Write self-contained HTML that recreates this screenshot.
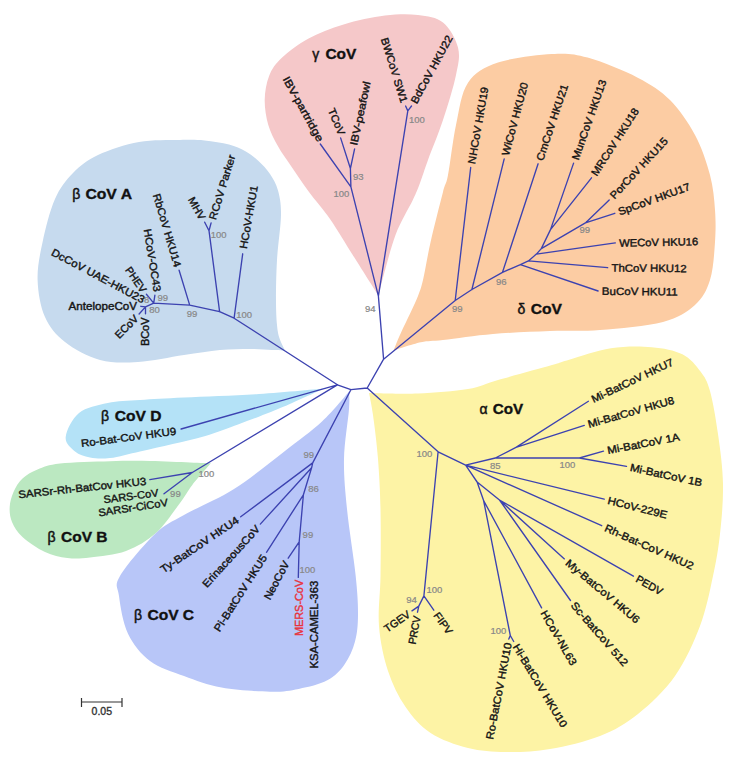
<!DOCTYPE html><html><head><meta charset="utf-8"><style>html,body{margin:0;padding:0;background:#fff;}svg{display:block;font-family:"Liberation Sans",sans-serif;}</style></head><body>
<svg width="734" height="768" viewBox="0 0 734 768">
<rect width="734" height="768" fill="#fff"/>
<path fill="#c6daee" d="M98.0,155.0 C109.0,149.8 125.3,144.5 139.0,142.0 C152.7,139.5 169.1,140.2 180.0,140.0 C190.9,139.8 196.3,139.7 204.5,140.5 C212.7,141.3 222.2,142.8 229.0,144.6 C235.8,146.4 240.5,148.5 245.4,151.2 C250.3,153.9 254.4,157.2 258.5,161.0 C262.6,164.8 266.8,169.1 270.0,174.0 C273.2,178.9 276.2,183.6 278.0,190.4 C279.8,197.2 281.2,203.4 281.0,215.0 C280.8,226.6 277.8,245.8 277.0,260.0 C276.2,274.2 276.0,289.2 276.0,300.0 C276.0,310.8 276.4,318.6 277.0,325.0 C277.6,331.4 278.1,333.9 279.4,338.1 C280.7,342.4 285.0,350.5 285.0,350.5 C285.0,350.5 277.8,350.2 272.0,350.0 C266.2,349.8 258.7,349.0 250.0,349.0 C241.3,349.0 231.0,349.0 220.0,350.0 C209.0,351.0 197.7,353.0 184.0,355.0 C170.3,357.0 152.0,361.2 138.0,362.0 C124.0,362.8 112.2,363.3 100.0,360.0 C87.8,356.7 74.2,349.2 65.0,342.0 C55.8,334.8 49.6,327.3 45.0,317.0 C40.4,306.7 38.0,292.5 37.6,280.0 C37.2,267.5 39.7,255.5 42.6,242.0 C45.5,228.5 49.9,210.5 55.0,199.0 C60.1,187.5 65.8,180.3 73.0,173.0 C80.2,165.7 87.0,160.2 98.0,155.0Z"/>
<path fill="#f5c8c9" d="M308.1,38.7 C318.4,33.1 330.8,28.4 343.6,24.5 C356.4,20.6 372.6,17.2 385.0,15.6 C397.4,14.0 408.3,13.8 418.0,15.0 C427.7,16.1 436.3,17.1 443.0,22.5 C449.7,27.9 455.8,38.9 458.0,47.6 C460.2,56.4 458.5,62.9 456.0,75.0 C453.5,87.1 447.7,105.8 443.0,120.0 C438.3,134.2 431.8,149.5 428.0,160.0 C424.2,170.5 422.5,176.3 420.0,183.0 C417.5,189.7 416.9,191.4 412.8,200.0 C408.7,208.6 400.8,220.9 395.6,234.7 C390.4,248.5 384.5,272.9 381.6,283.0 C378.7,293.1 378.4,295.6 378.4,295.6 C378.4,295.6 362.3,270.1 354.2,257.3 C346.1,244.5 337.5,229.9 330.0,219.0 C322.5,208.1 315.5,200.8 309.0,192.0 C302.5,183.2 296.2,173.6 291.0,166.0 C285.8,158.4 281.8,153.1 278.0,146.3 C274.2,139.5 270.5,132.7 268.3,125.0 C266.1,117.3 264.6,108.2 264.7,100.0 C264.8,91.8 266.4,82.8 269.2,75.8 C272.0,68.8 275.1,64.3 281.6,58.1 C288.1,51.9 297.8,44.3 308.1,38.7Z"/>
<path fill="#fccca3" d="M498.0,62.6 C512.0,57.8 537.1,54.8 552.0,54.0 C566.9,53.2 573.3,53.6 587.6,57.6 C601.9,61.6 624.0,70.6 637.7,77.7 C651.4,84.8 660.5,90.5 670.0,100.0 C679.5,109.5 688.3,122.5 695.0,135.0 C701.7,147.5 706.7,162.5 710.0,175.0 C713.3,187.5 714.2,198.8 715.0,210.0 C715.8,221.2 715.8,230.3 715.0,242.0 C714.2,253.7 713.3,269.5 710.0,280.0 C706.7,290.5 702.8,298.0 695.0,305.0 C687.2,312.0 678.8,317.8 663.0,322.0 C647.2,326.2 618.8,328.5 600.0,330.0 C581.2,331.5 567.8,330.3 550.0,331.0 C532.2,331.7 510.8,332.5 493.0,334.0 C475.2,335.5 455.0,338.6 443.0,340.0 C431.0,341.4 429.1,340.5 420.9,342.2 C412.7,343.9 393.6,350.4 393.6,350.4 C393.6,350.4 397.4,340.6 400.4,334.0 C403.3,327.4 408.4,317.2 411.3,310.9 C414.2,304.6 416.1,301.1 418.0,296.0 C419.9,290.9 420.9,289.0 423.0,280.0 C425.1,271.0 427.3,256.7 430.6,242.0 C433.9,227.3 440.1,203.2 443.0,192.0 C445.9,180.8 445.8,186.2 448.0,175.0 C450.2,163.8 452.7,140.4 456.0,125.0 C459.3,109.6 461.0,93.1 468.0,82.7 C475.0,72.3 484.0,67.4 498.0,62.6Z"/>
<path fill="#fdf3a5" d="M369.0,393.0 C369.0,393.0 401.5,394.2 418.0,393.5 C434.5,392.8 454.7,391.2 468.0,389.0 C481.3,386.8 484.0,384.0 498.0,380.0 C512.0,376.0 540.0,368.4 552.0,365.0 C564.0,361.6 560.2,362.2 570.0,359.4 C579.8,356.6 597.3,350.2 610.9,348.2 C624.5,346.2 639.8,346.2 651.7,347.2 C663.6,348.2 674.3,350.2 682.4,354.3 C690.5,358.4 695.9,365.4 700.5,371.5 C705.1,377.6 707.1,380.6 710.0,391.0 C712.9,401.4 715.8,418.5 718.0,434.0 C720.2,449.5 722.7,467.3 723.0,484.0 C723.3,500.7 721.7,518.7 720.0,534.0 C718.3,549.3 716.3,560.7 713.0,576.0 C709.7,591.3 706.3,609.3 700.0,626.0 C693.7,642.7 685.3,661.3 675.0,676.0 C664.7,690.7 650.5,704.0 638.0,714.0 C625.5,724.0 614.7,730.2 600.0,736.0 C585.3,741.8 565.7,746.3 550.0,749.0 C534.3,751.7 519.7,752.2 506.0,752.0 C492.3,751.8 480.6,751.2 468.0,748.0 C455.4,744.8 441.0,739.8 430.6,733.0 C420.2,726.2 412.7,717.3 405.6,707.0 C398.5,696.7 392.4,684.5 388.0,671.0 C383.6,657.5 380.2,641.8 379.0,626.0 C377.8,610.2 380.2,595.5 380.5,576.0 C380.8,556.5 380.9,528.5 380.5,509.0 C380.1,489.5 379.2,474.7 378.0,459.0 C376.8,443.3 374.5,426.0 373.0,415.0 C371.5,404.0 369.0,393.0 369.0,393.0Z"/>
<path fill="#b4e2f7" d="M65.7,437.0 C66.4,430.6 72.0,418.7 79.0,413.0 C86.0,407.3 97.5,405.2 107.7,403.0 C117.9,400.8 127.3,400.9 140.0,400.0 C152.7,399.1 164.2,398.5 184.0,397.5 C203.8,396.5 235.7,395.5 259.0,394.0 C282.3,392.5 324.0,388.5 324.0,388.5 C324.0,388.5 294.7,402.0 284.0,406.6 C273.3,411.2 267.7,413.3 260.0,416.3 C252.3,419.3 247.1,421.1 238.0,424.4 C228.9,427.7 216.3,432.6 205.4,435.9 C194.5,439.2 183.6,441.4 172.7,444.0 C161.8,446.6 150.4,449.1 140.0,451.4 C129.6,453.7 118.3,457.0 110.0,458.0 C101.7,459.0 95.8,458.6 90.0,457.5 C84.2,456.4 79.0,454.9 75.0,451.5 C71.0,448.1 65.0,443.4 65.7,437.0Z"/>
<path fill="#bbe8c1" d="M37.5,469.5 C43.8,467.0 47.9,464.9 60.0,463.5 C72.1,462.1 95.0,461.6 110.0,461.2 C125.0,460.8 136.7,460.8 150.0,461.0 C163.3,461.2 179.9,462.1 190.0,462.5 C200.1,462.9 210.8,463.3 210.8,463.3 C210.8,463.3 197.4,478.4 192.3,485.0 C187.2,491.6 186.1,495.0 180.0,503.0 C173.9,511.0 165.0,525.0 156.0,533.0 C147.0,541.0 137.0,546.9 126.0,551.0 C115.0,555.1 99.8,556.3 90.0,557.5 C80.2,558.7 74.9,558.9 67.4,558.0 C59.9,557.1 52.5,555.5 45.0,552.0 C37.5,548.5 28.0,542.0 22.5,537.0 C17.0,532.0 14.1,527.0 12.0,522.0 C9.9,517.0 9.4,512.0 9.7,507.0 C9.9,502.0 11.4,496.8 13.5,492.0 C15.6,487.2 18.5,482.2 22.5,478.5 C26.5,474.8 31.2,472.0 37.5,469.5Z"/>
<path fill="#b8c6f8" d="M349.0,391.5 C349.0,391.5 349.8,397.8 349.0,409.0 C348.2,420.2 344.3,442.3 344.0,459.0 C343.7,475.7 345.1,489.5 347.0,509.0 C348.9,528.5 353.9,558.3 355.7,576.0 C357.5,593.7 358.1,604.1 358.0,615.0 C357.9,625.9 357.2,633.4 355.0,641.6 C352.8,649.9 349.1,658.0 344.5,664.5 C339.9,671.0 334.9,676.2 327.3,680.3 C319.7,684.4 308.2,687.0 298.7,688.9 C289.1,690.8 282.9,691.9 270.0,691.7 C257.1,691.5 235.9,690.2 221.6,687.6 C207.3,685.0 195.9,680.4 184.0,676.0 C172.1,671.6 159.3,668.0 150.0,661.0 C140.7,654.0 133.2,644.5 128.0,633.7 C122.8,622.9 120.3,605.6 119.0,596.0 C117.7,586.4 114.0,586.3 120.0,576.0 C126.0,565.7 144.3,544.2 155.0,534.0 C165.7,523.8 170.8,522.5 184.0,515.0 C197.2,507.5 217.3,499.6 234.0,489.0 C250.7,478.4 269.3,462.9 284.0,451.7 C298.7,440.5 311.2,431.6 322.0,421.6 C332.8,411.6 349.0,391.5 349.0,391.5Z"/>
<path fill="none" stroke="#3c42b0" stroke-width="1.35" stroke-linecap="round" stroke-linejoin="round" d="M337.4,384.8L350.9,389.7M350.9,389.7L367.2,388.0M367.2,388.0L383.6,359.2M337.4,384.8L234.1,318.2M234.1,318.2L242.7,253.8M234.1,318.2L219.6,311.7M219.6,311.7L209.0,230.7M209.0,230.7L204.7,222.2M209.0,230.7L211.1,222.9M219.6,311.7L189.7,305.1M189.7,305.1L179.1,270.2M189.7,305.1L153.7,303.1M153.7,303.1L154.9,295.2M153.7,303.1L146.4,294.3M153.7,303.1L145.5,306.9M145.5,306.9L139.1,314.0M145.5,306.9L140.8,306.3M145.5,306.9L145.5,313.7M337.4,384.8L181.1,429.0M337.4,384.8L192.3,472.5M192.3,472.5L149.8,479.6M192.3,472.5L164.0,493.8M350.9,389.7L312.7,462.9M312.7,462.9L240.7,516.8M312.7,462.9L311.6,467.8M311.6,467.8L260.3,524.1M311.6,467.8L303.4,494.8M303.4,494.8L266.5,552.3M303.4,494.8L299.2,541.8M299.2,541.8L288.2,558.2M299.2,541.8L298.3,577.4M367.2,388.0L438.1,451.8M438.1,451.8L423.9,595.9M423.9,595.9L433.8,610.2M423.9,595.9L418.8,606.1M418.8,606.1L412.0,610.9M418.8,606.1L417.5,612.2M438.1,451.8L465.6,465.2M465.6,465.2L495.3,458.0M495.3,458.0L516.0,447.4M516.0,447.4L588.4,401.3M516.0,447.4L584.3,425.4M495.3,458.0L579.4,458.0M579.4,458.0L603.5,451.1M579.4,458.0L626.5,466.3M465.6,465.2L604.2,499.2M465.6,465.2L601.7,525.7M465.6,465.2L477.1,482.0M477.1,482.0L483.6,500.5M477.1,482.0L499.5,500.0M499.5,500.0L564.4,558.9M499.5,500.0L570.5,600.5M499.5,500.0L633.4,576.2M483.6,500.5L541.6,607.9M483.6,500.5L510.3,635.5M510.3,635.5L508.8,639.1M510.3,635.5L513.7,641.5M383.6,359.2L378.4,296.1M378.4,296.1L350.9,186.9M350.9,186.9L320.3,144.0M350.9,186.9L350.4,168.5M350.4,168.5L340.6,137.9M350.4,168.5L354.6,148.9M378.4,296.1L407.8,110.9M407.8,110.9L405.6,106.0M407.8,110.9L411.5,106.0M383.6,359.2L455.2,300.5M455.2,300.5L470.7,167.5M455.2,300.5L471.9,289.5M471.9,289.5L504.2,158.9M471.9,289.5L502.5,272.3M502.5,272.3L538.1,163.8M502.5,272.3L520.4,264.6M520.4,264.6L598.1,291.0M520.4,264.6L528.4,260.9M528.4,260.9L607.7,267.7M528.4,260.9L536.4,254.1M536.4,254.1L615.3,242.9M536.4,254.1L541.3,248.6M541.3,248.6L550.5,229.6M550.5,229.6L573.6,163.1M550.5,229.6L591.5,177.8M541.3,248.6L585.4,222.9M585.4,222.9L609.2,199.9M585.4,222.9L614.8,213.3"/>
<g fill="#151515" stroke="#151515" stroke-width="0.4" font-size="10.6">
<text x="0" y="0" text-anchor="start" textLength="63.8" lengthAdjust="spacingAndGlyphs" transform="translate(246.80,249.22) rotate(-80.0)">HCoV-HKU1</text>
<text x="0" y="0" text-anchor="start" textLength="67.1" lengthAdjust="spacingAndGlyphs" transform="translate(215.84,220.38) rotate(-73.0)">RCoV Parker</text>
<text x="0" y="0" text-anchor="end" textLength="24.4" lengthAdjust="spacingAndGlyphs" transform="translate(199.53,220.72) rotate(61.0)">MHV</text>
<text x="0" y="0" text-anchor="end" textLength="75.9" lengthAdjust="spacingAndGlyphs" transform="translate(174.38,267.64) rotate(73.5)">RbCoV HKU14</text>
<text x="0" y="0" text-anchor="end" textLength="63.3" lengthAdjust="spacingAndGlyphs" transform="translate(153.65,292.04) rotate(81.0)">HCoV-OC43</text>
<text x="0" y="0" text-anchor="end" textLength="28.6" lengthAdjust="spacingAndGlyphs" transform="translate(141.11,293.37) rotate(55.0)">PHEV</text>
<text x="0" y="0" text-anchor="end" textLength="104.0" lengthAdjust="spacingAndGlyphs" transform="translate(142.36,303.57) rotate(28.0)">DcCoV UAE-HKU23</text>
<text x="0" y="0" text-anchor="end" textLength="68.4" lengthAdjust="spacingAndGlyphs" transform="translate(137.00,310.10) rotate(0.0)">AntelopeCoV</text>
<text x="0" y="0" text-anchor="end" textLength="28.0" lengthAdjust="spacingAndGlyphs" transform="translate(139.10,319.37) rotate(-45.0)">ECoV</text>
<text x="0" y="0" text-anchor="end" textLength="28.6" lengthAdjust="spacingAndGlyphs" transform="translate(149.30,317.50) rotate(-90.0)">BCoV</text>
<text x="0" y="0" text-anchor="end" textLength="72.7" lengthAdjust="spacingAndGlyphs" transform="translate(317.63,142.52) rotate(61.0)">IBV-partridge</text>
<text x="0" y="0" text-anchor="end" textLength="27.9" lengthAdjust="spacingAndGlyphs" transform="translate(338.62,135.89) rotate(67.0)">TCoV</text>
<text x="0" y="0" text-anchor="start" textLength="65.0" lengthAdjust="spacingAndGlyphs" transform="translate(357.11,145.97) rotate(-78.0)">IBV-peafowl</text>
<text x="0" y="0" text-anchor="end" textLength="67.6" lengthAdjust="spacingAndGlyphs" transform="translate(400.84,103.50) rotate(72.7)">BWCoV SW1</text>
<text x="0" y="0" text-anchor="start" textLength="75.8" lengthAdjust="spacingAndGlyphs" transform="translate(416.66,104.49) rotate(-61.3)">BdCoV HKU22</text>
<text x="0" y="0" text-anchor="start" textLength="77.8" lengthAdjust="spacingAndGlyphs" transform="translate(475.09,164.40) rotate(-80.2)">NHCoV HKU19</text>
<text x="0" y="0" text-anchor="start" textLength="75.2" lengthAdjust="spacingAndGlyphs" transform="translate(508.85,156.20) rotate(-75.1)">WiCoV HKU20</text>
<text x="0" y="0" text-anchor="start" textLength="79.7" lengthAdjust="spacingAndGlyphs" transform="translate(542.91,161.40) rotate(-71.5)">CmCoV HKU21</text>
<text x="0" y="0" text-anchor="start" textLength="84.3" lengthAdjust="spacingAndGlyphs" transform="translate(578.45,160.79) rotate(-70.5)">MunCoV HKU13</text>
<text x="0" y="0" text-anchor="start" textLength="78.2" lengthAdjust="spacingAndGlyphs" transform="translate(596.76,176.68) rotate(-57.0)">MRCoV HKU18</text>
<text x="0" y="0" text-anchor="start" textLength="79.3" lengthAdjust="spacingAndGlyphs" transform="translate(614.57,199.71) rotate(-47.0)">PorCoV HKU15</text>
<text x="0" y="0" text-anchor="start" textLength="75.8" lengthAdjust="spacingAndGlyphs" transform="translate(619.67,215.57) rotate(-20.0)">SpCoV HKU17</text>
<text x="0" y="0" text-anchor="start" textLength="79.1" lengthAdjust="spacingAndGlyphs" transform="translate(619.17,246.63) rotate(-1.0)">WECoV HKU16</text>
<text x="0" y="0" text-anchor="start" textLength="75.2" lengthAdjust="spacingAndGlyphs" transform="translate(611.47,271.53) rotate(0.5)">ThCoV HKU12</text>
<text x="0" y="0" text-anchor="start" textLength="75.9" lengthAdjust="spacingAndGlyphs" transform="translate(601.87,294.83) rotate(0.5)">BuCoV HKU11</text>
<text x="0" y="0" text-anchor="start" textLength="89.4" lengthAdjust="spacingAndGlyphs" transform="translate(593.46,403.10) rotate(-25.4)">Mi-BatCoV HKU7</text>
<text x="0" y="0" text-anchor="start" textLength="89.4" lengthAdjust="spacingAndGlyphs" transform="translate(589.00,428.01) rotate(-16.0)">Mi-BatCoV HKU8</text>
<text x="0" y="0" text-anchor="start" textLength="73.6" lengthAdjust="spacingAndGlyphs" transform="translate(607.94,454.12) rotate(-10.8)">Mi-BatCoV 1A</text>
<text x="0" y="0" text-anchor="start" textLength="73.7" lengthAdjust="spacingAndGlyphs" transform="translate(629.40,470.82) rotate(12.3)">Mi-BatCoV 1B</text>
<text x="0" y="0" text-anchor="start" textLength="61.0" lengthAdjust="spacingAndGlyphs" transform="translate(606.97,503.81) rotate(14.0)">HCoV-229E</text>
<text x="0" y="0" text-anchor="start" textLength="96.2" lengthAdjust="spacingAndGlyphs" transform="translate(603.63,530.72) rotate(24.0)">Rh-Bat-CoV HKU2</text>
<text x="0" y="0" text-anchor="start" textLength="28.8" lengthAdjust="spacingAndGlyphs" transform="translate(634.88,581.37) rotate(29.0)">PEDV</text>
<text x="0" y="0" text-anchor="start" textLength="92.8" lengthAdjust="spacingAndGlyphs" transform="translate(564.87,564.25) rotate(40.0)">My-BatCoV HKU6</text>
<text x="0" y="0" text-anchor="start" textLength="80.9" lengthAdjust="spacingAndGlyphs" transform="translate(570.13,605.86) rotate(49.0)">Sc-BatCoV 512</text>
<text x="0" y="0" text-anchor="start" textLength="61.4" lengthAdjust="spacingAndGlyphs" transform="translate(540.21,613.09) rotate(60.0)">HCoV-NL63</text>
<text x="0" y="0" text-anchor="start" textLength="95.3" lengthAdjust="spacingAndGlyphs" transform="translate(512.40,646.71) rotate(59.0)">Hi-BatCoV HKU10</text>
<text x="0" y="0" text-anchor="end" textLength="98.2" lengthAdjust="spacingAndGlyphs" transform="translate(511.81,643.56) rotate(-79.0)">Ro-BatCoV HKU10</text>
<text x="0" y="0" text-anchor="start" textLength="24.4" lengthAdjust="spacingAndGlyphs" transform="translate(432.96,615.51) rotate(54.0)">FIPV</text>
<text x="0" y="0" text-anchor="end" textLength="28.7" lengthAdjust="spacingAndGlyphs" transform="translate(420.58,616.60) rotate(-80.0)">PRCV</text>
<text x="0" y="0" text-anchor="end" textLength="29.0" lengthAdjust="spacingAndGlyphs" transform="translate(411.07,616.19) rotate(-35.0)">TGEV</text>
<text x="0" y="0" text-anchor="end" textLength="92.0" lengthAdjust="spacingAndGlyphs" transform="translate(239.67,522.08) rotate(-34.0)">Ty-BatCoV HKU4</text>
<text x="0" y="0" text-anchor="end" textLength="79.4" lengthAdjust="spacingAndGlyphs" transform="translate(260.55,529.47) rotate(-47.7)">ErinaceousCoV</text>
<text x="0" y="0" text-anchor="end" textLength="89.0" lengthAdjust="spacingAndGlyphs" transform="translate(267.64,557.55) rotate(-57.3)">Pi-BatCoV HKU5</text>
<text x="0" y="0" text-anchor="end" textLength="42.1" lengthAdjust="spacingAndGlyphs" transform="translate(289.77,563.34) rotate(-62.0)">NeoCoV</text>
<text x="0" y="0" text-anchor="end" textLength="56.3" lengthAdjust="spacingAndGlyphs" transform="translate(303.00,579.80) rotate(-90.0)" fill="#e8333c" stroke="#e8333c">MERS-CoV</text>
<text x="0" y="0" text-anchor="end" textLength="87.8" lengthAdjust="spacingAndGlyphs" transform="translate(318.10,580.80) rotate(-90.0)">KSA-CAMEL-363</text>
<text x="0" y="0" text-anchor="end" textLength="95.9" lengthAdjust="spacingAndGlyphs" transform="translate(176.50,434.70) rotate(-7.4)">Ro-Bat-CoV HKU9</text>
<text x="0" y="0" text-anchor="end" textLength="128.5" lengthAdjust="spacingAndGlyphs" transform="translate(146.50,484.80) rotate(-6.0)">SARSr-Rh-BatCov HKU3</text>
<text x="0" y="0" text-anchor="end" textLength="55.2" lengthAdjust="spacingAndGlyphs" transform="translate(158.80,496.30) rotate(-7.3)">SARS-CoV</text>
<text x="0" y="0" text-anchor="end" textLength="70.1" lengthAdjust="spacingAndGlyphs" transform="translate(168.30,505.90) rotate(-8.6)">SARSr-CiCoV</text>
</g>
<g fill="#888" stroke="#888" stroke-width="0.2" font-size="8.4">
<text x="236.2" y="318.0" textLength="15.8" lengthAdjust="spacingAndGlyphs">100</text>
<text x="186.8" y="316.6" textLength="10.6" lengthAdjust="spacingAndGlyphs">99</text>
<text x="210.7" y="237.5" textLength="15.8" lengthAdjust="spacingAndGlyphs">100</text>
<text x="157.4" y="301.0" textLength="10.6" lengthAdjust="spacingAndGlyphs">99</text>
<text x="149.2" y="313.4" textLength="10.6" lengthAdjust="spacingAndGlyphs">80</text>
<text x="143.9" y="302.5" textLength="5.3" lengthAdjust="spacingAndGlyphs">8</text>
<text x="333.6" y="196.7" textLength="15.8" lengthAdjust="spacingAndGlyphs">100</text>
<text x="353.0" y="179.6" textLength="10.6" lengthAdjust="spacingAndGlyphs">93</text>
<text x="408.9" y="123.2" textLength="15.8" lengthAdjust="spacingAndGlyphs">100</text>
<text x="365.0" y="311.5" textLength="10.6" lengthAdjust="spacingAndGlyphs">94</text>
<text x="451.9" y="311.6" textLength="10.6" lengthAdjust="spacingAndGlyphs">99</text>
<text x="496.0" y="284.6" textLength="10.6" lengthAdjust="spacingAndGlyphs">96</text>
<text x="579.4" y="233.1" textLength="10.6" lengthAdjust="spacingAndGlyphs">99</text>
<text x="416.4" y="457.2" textLength="15.8" lengthAdjust="spacingAndGlyphs">100</text>
<text x="489.9" y="468.5" textLength="10.6" lengthAdjust="spacingAndGlyphs">85</text>
<text x="559.4" y="468.3" textLength="15.8" lengthAdjust="spacingAndGlyphs">100</text>
<text x="426.6" y="592.5" textLength="15.8" lengthAdjust="spacingAndGlyphs">100</text>
<text x="406.2" y="603.4" textLength="10.6" lengthAdjust="spacingAndGlyphs">94</text>
<text x="490.6" y="633.7" textLength="15.8" lengthAdjust="spacingAndGlyphs">100</text>
<text x="303.4" y="458.0" textLength="10.6" lengthAdjust="spacingAndGlyphs">99</text>
<text x="308.3" y="491.5" textLength="10.6" lengthAdjust="spacingAndGlyphs">86</text>
<text x="302.6" y="538.0" textLength="10.6" lengthAdjust="spacingAndGlyphs">99</text>
<text x="299.6" y="572.8" textLength="15.8" lengthAdjust="spacingAndGlyphs">100</text>
<text x="198.5" y="476.9" textLength="15.8" lengthAdjust="spacingAndGlyphs">100</text>
<text x="170.1" y="496.5" textLength="10.6" lengthAdjust="spacingAndGlyphs">99</text>
</g>
<g fill="#111">
<text x="72.3" y="198.6" font-size="14" stroke="#111" stroke-width="0.45">β</text>
<text x="85.4" y="198.6" font-size="14.8" font-weight="bold" stroke="#111" stroke-width="0.35" textLength="46.6" lengthAdjust="spacingAndGlyphs">CoV A</text>
<text x="312.3" y="59.4" font-size="14" stroke="#111" stroke-width="0.45">γ</text>
<text x="325.4" y="59.4" font-size="14.8" font-weight="bold" stroke="#111" stroke-width="0.35" textLength="30.9" lengthAdjust="spacingAndGlyphs">CoV</text>
<text x="517.4" y="314.0" font-size="14" stroke="#111" stroke-width="0.45">δ</text>
<text x="530.7" y="314.0" font-size="14.8" font-weight="bold" stroke="#111" stroke-width="0.35" textLength="31.2" lengthAdjust="spacingAndGlyphs">CoV</text>
<text x="479.4" y="413.8" font-size="14" stroke="#111" stroke-width="0.45">α</text>
<text x="492.8" y="413.8" font-size="14.8" font-weight="bold" stroke="#111" stroke-width="0.35" textLength="30.4" lengthAdjust="spacingAndGlyphs">CoV</text>
<text x="134.1" y="619.7" font-size="14" stroke="#111" stroke-width="0.45">β</text>
<text x="147.4" y="619.7" font-size="14.8" font-weight="bold" stroke="#111" stroke-width="0.35" textLength="46.7" lengthAdjust="spacingAndGlyphs">CoV C</text>
<text x="101.0" y="420.7" font-size="14" stroke="#111" stroke-width="0.45">β</text>
<text x="114.8" y="420.7" font-size="14.8" font-weight="bold" stroke="#111" stroke-width="0.35" textLength="46.8" lengthAdjust="spacingAndGlyphs">CoV D</text>
<text x="47.4" y="541.9" font-size="14" stroke="#111" stroke-width="0.45">β</text>
<text x="61.0" y="541.9" font-size="14.8" font-weight="bold" stroke="#111" stroke-width="0.35" textLength="46.5" lengthAdjust="spacingAndGlyphs">CoV B</text>
</g>
<path d="M81.5,702H122M81.5,698V707M122,698V707" stroke="#333" stroke-width="1.2" fill="none"/>
<text x="101.8" y="714.8" font-size="10.4" fill="#333" stroke="#333" stroke-width="0.35" text-anchor="middle" textLength="20.5" lengthAdjust="spacingAndGlyphs">0.05</text>
</svg></body></html>
